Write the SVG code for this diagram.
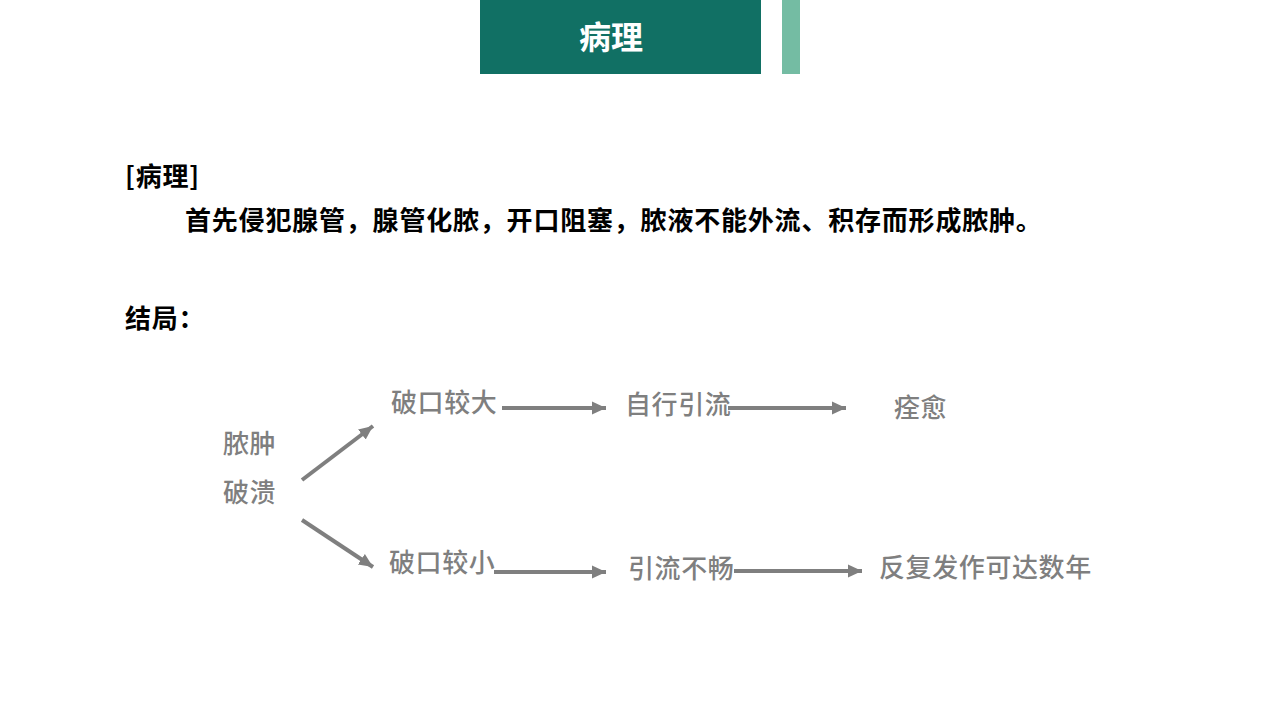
<svg xmlns="http://www.w3.org/2000/svg" width="1280" height="720" viewBox="0 0 1280 720">
<style>
.h{font-family:"Noto Sans CJK SC","Liberation Sans",sans-serif;font-weight:bold;fill:#000;font-size:26px;letter-spacing:0.8px}
.g{font-family:"Noto Sans CJK SC","Liberation Sans",sans-serif;font-weight:500;fill:#7f7f7f;font-size:26px;letter-spacing:0.6px}
.c{stroke:#7f7f7f;stroke-width:4;fill:none}
</style>
<defs>
<marker id="ah" markerWidth="4" markerHeight="4" refX="3.5" refY="2" orient="auto" markerUnits="strokeWidth">
<path d="M0,0.4 L3.5,2 L0,3.6 Z" fill="#7f7f7f"/>
</marker>
</defs>
<rect width="1280" height="720" fill="#fff"/>
<g id="header">
<rect x="480" y="0" width="281" height="74" fill="#117064"/>
<rect x="782" y="0" width="18" height="74" fill="#74bca3"/>
<text x="611" y="49" text-anchor="middle" font-family="Noto Sans CJK SC,sans-serif" font-weight="bold" font-size="32" fill="#fff">病理</text>
</g>
<g id="intro">
<text class="h" x="125" y="186">[病理]</text>
<text class="h" x="185" y="230">首先侵犯腺管，腺管化脓，开口阻塞，脓液不能外流、积存而形成脓肿。</text>
<text class="h" x="125" y="328">结局：</text>
</g>
<g id="n-start"><text class="g" x="223" y="453">脓肿</text><text class="g" x="223" y="502">破溃</text></g>
<g id="n-big"><text class="g" x="391" y="412">破口较大</text></g>
<g id="n-self"><text class="g" x="625" y="414">自行引流</text></g>
<g id="n-heal"><text class="g" x="894" y="417">痊愈</text></g>
<g id="n-small"><text class="g" x="389" y="572">破口较小</text></g>
<g id="n-poor"><text class="g" x="628" y="578">引流不畅</text></g>
<g id="n-years"><text class="g" x="879" y="577">反复发作可达数年</text></g>
<g id="connectors">
<line class="c" x1="302" y1="480" x2="373" y2="426" marker-end="url(#ah)"/>
<line class="c" x1="302" y1="520" x2="373" y2="567" marker-end="url(#ah)"/>
<line class="c" x1="502" y1="408" x2="606" y2="408" marker-end="url(#ah)"/>
<line class="c" x1="728" y1="408" x2="846" y2="408" marker-end="url(#ah)"/>
<line class="c" x1="494" y1="572" x2="606" y2="572" marker-end="url(#ah)"/>
<line class="c" x1="734" y1="571" x2="862" y2="571" marker-end="url(#ah)"/>
</g>
</svg>
